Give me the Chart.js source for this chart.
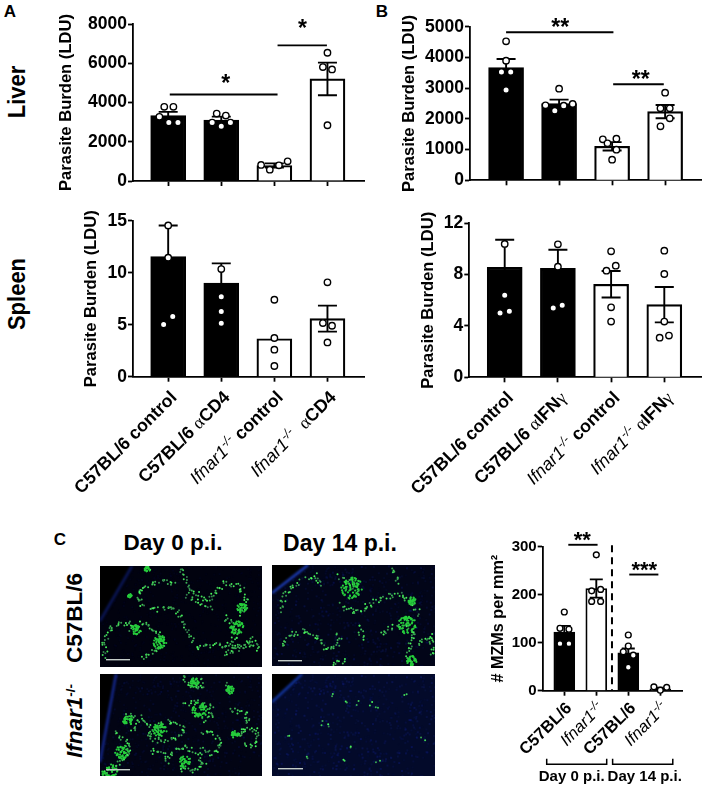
<!DOCTYPE html>
<html>
<head>
<meta charset="utf-8">
<script src="https://cdn.jsdelivr.net/npm/chart.js"></script>
<style>
  html, body { margin: 0; padding: 0; background: #fff; }
  body { position: relative; width: 707px; height: 789px; overflow: hidden; font-family: "Liberation Sans", Arial, sans-serif; color: #000; }
  canvas { position: absolute; display: block; }
  .txt { position: absolute; font-weight: bold; white-space: nowrap; transform: translate(-50%, -50%); line-height: 1; }
  .rot { transform: translate(-50%, -50%) rotate(-90deg); }
  .tall { transform: translate(-50%, -50%) rotate(-90deg) scaleY(1.12); }
  .txt sup { font-size: 60%; vertical-align: 0.5em; line-height: 0; }
</style>
</head>
<body>
<div class="txt" style="left:10px;top:11px;font-size:17px">A</div>
<div class="txt" style="left:382px;top:11px;font-size:17px">B</div>
<div class="txt" style="left:60px;top:539px;font-size:17px">C</div>
<div class="txt tall" style="left:17px;top:92px;font-size:22px">Liver</div>
<div class="txt tall" style="left:17px;top:294px;font-size:22px">Spleen</div>
<div class="txt" style="left:173px;top:543px;font-size:22.5px">Day 0 p.i.</div>
<div class="txt" style="left:340px;top:543px;font-size:23px">Day 14 p.i.</div>
<div class="txt rot" style="left:75px;top:618px;font-size:22.5px">C57BL/6</div>
<div class="txt rot" style="left:75px;top:721px;font-size:22.5px"><i>Ifnar1</i><sup>-/-</sup></div>

<canvas id="liverA" width="320" height="200" style="left:50px;top:0"></canvas>
<canvas id="liverB" width="327" height="200" style="left:380px;top:0"></canvas>
<canvas id="spleenA" width="320" height="310" style="left:50px;top:205px"></canvas>
<canvas id="spleenB" width="327" height="310" style="left:380px;top:205px"></canvas>
<canvas id="mzmChart" width="237" height="264" style="left:470px;top:525px"></canvas>
<canvas id="photo1" width="162" height="101" style="left:100px;top:566px"></canvas>
<canvas id="photo2" width="163" height="101" style="left:272px;top:565px"></canvas>
<canvas id="photo3" width="162" height="102" style="left:100px;top:674px"></canvas>
<canvas id="photo4" width="163" height="102" style="left:272px;top:674px"></canvas>

<script>
// category labels, *x* = italic, ^x^ = superscript, ~x~ = greek
const cd4Labels = ["C57BL/6 control", "C57BL/6 ~α~CD4", "*Ifnar1*^-/-^ control", "*Ifnar1*^-/-^  ~α~CD4"];
const ifnLabels = ["C57BL/6 control", "C57BL/6 ~α~IFN~γ~", "*Ifnar1*^-/-^ control", "*Ifnar1*^-/-^ ~α~IFN~γ~"];
const mzmLabels = ["C57BL/6", "*Ifnar1*^-/-^", "C57BL/6", "*Ifnar1*^-/-^"];
const dayLabels = ["Day 0 p.i.", "Day 14 p.i."];

// Liver, panel A
const liverAMeans = [3330, 3110, 790, 5200];
const liverASem = [190, 170, 110, 830];
const liverAPoints = [
  [3778, 3778, 3268, 2978, 2978],
  [3438, 3336, 2978, 2791, 2978],
  [817, 579, 800, 1004],
  [6536, 5804, 5685, 2842]
];
const liverATicks = [0, 2000, 4000, 6000, 8000];

// Liver, panel B
const liverBMeans = [3667, 2495, 1107, 2235];
const liverBSem = [280, 130, 135, 215];
const liverBPoints = [
  [4524, 3895, 3526, 3526, 2940],
  [2983, 2441, 2267, 2430, 2484],
  [1334, 1356, 1204, 998, 672],
  [2853, 2343, 2343, 2018, 1757]
];
const liverBTicks = [0, 1000, 2000, 3000, 4000, 5000];

// Spleen, panel A
const spleenAMeans = [11.54, 9.0, 3.65, 5.58];
const spleenASem = [3.0, 1.9, null, 1.25];
const spleenAPoints = [
  [14.55, 11.44, 5.8, 5.03],
  [10.35, 7.69, 6.28, 5.13],
  [7.4, 3.72, 2.6, 1.03],
  [9.07, 5.16, 4.9, 3.3]
];
const spleenATicks = [0, 5, 10, 15];

// Spleen, panel B
const spleenBMeans = [8.57, 8.49, 7.25, 5.66];
const spleenBSem = [2.15, 1.45, 1.03, 1.38];
const spleenBPoints = [
  [10.39, 6.39, 5.14, 5.01],
  [10.36, 8.62, 5.61, 5.4],
  [9.82, 8.7, 8.31, 5.45, 4.34],
  [9.87, 8.05, 4.34, 3.25, 3.09]
];
const spleenBTicks = [0, 4, 8, 12];

// MZM counts, panel C
const mzmMeans = [122, 213, 79, 4];
const mzmSem = [13, 19, 9, 2];
const mzmPoints = [
  [164, 130, 128, 98, 98],
  [283, 208, 211, 186, 186],
  [116, 93, 81, 74, 49],
  [8, 1, 7]
];
const mzmTicks = [0, 100, 200, 300];

// sideways spread of the dots round each bar centre
const liverAJitter = [[-.074, .098, -.166, .012, .184], [-.086, .086, -.172, 0, .172], [-.25, -.086, .086, .25], [0, -.086, .086, 0]];
const liverBJitter = [[0, 0, -.0875, .0875, 0], [0, -.256, -.081, .087, .256], [-.175, .081, -.087, .081, 0], [0, -.0875, .0875, .0875, -.0875]];
const spleenAJitter = [[0, 0, .086, -.086], [0, 0, 0, 0], [0, 0, 0, 0], [0, -.086, .086, 0]];
const spleenBJitter = [[0, 0, .0875, -.0875], [0, 0, .081, -.0875], [0, .0875, -.0875, 0, 0], [0, 0, 0, .0875, -.0875]];
const mzmJitter = [[0, -.135, .145, -.135, .145], [0, -.145, .135, -.145, .135], [0, 0, -.156, .156, 0], [-.2, 0, .2]];

// significance lines: x from, x to, y, star x, star y, stars (data units)
const liverABrackets = [[1.03, 3.06, 4408, 2.086, 5276, "*"], [3.06, 3.99, 6910, 3.53, 8067, "*"]];
const liverBBrackets = [[1, 3.025, 4817, 2.02, 5165, "**"], [3.02, 3.975, 3125, 3.54, 3483, "**"]];
const mzmBrackets = [[1.125, 2.04, 304, 1.56, 326, "**"], [3.03, 3.94, 242, 3.5, 264, "***"]];
const dayRanges = [[.45, 2.325], [2.51, 4.39]];

const black = "#000";
const white = "#fff";
const axisWidth = 1.8;

Chart.defaults.font.family = '"Liberation Sans", Arial, sans-serif';
Chart.defaults.color = black;
Chart.defaults.animation = false;

// parse the little label markup into styled pieces
function labelPieces(label, size) {
  const pieces = [];
  label.split(/(\*[^*]+\*|\^[^^]+\^|~[^~]+~)/).forEach((part) => {
    if (!part) return;
    if (part[0] === "*") pieces.push({ text: part.slice(1, -1), font: `italic 400 ${size}px "Liberation Sans"`, rise: 0 });
    else if (part[0] === "^") pieces.push({ text: part.slice(1, -1), font: `italic 400 ${size * 0.72}px "Liberation Sans"`, rise: size * 0.36 });
    else if (part[0] === "~") pieces.push({ text: part.slice(1, -1), font: `400 ${size}px "Liberation Serif"`, rise: 0 });
    else pieces.push({ text: part, font: `bold ${size}px "Liberation Sans"`, rise: 0 });
  });
  return pieces;
}

function drawAngledLabel(ctx, label, x, y, size) {
  const pieces = labelPieces(label, size);
  ctx.save();
  ctx.translate(x, y);
  ctx.rotate(-Math.PI / 4);
  ctx.textBaseline = "alphabetic";
  ctx.textAlign = "left";
  let total = 0;
  pieces.forEach((p) => { ctx.font = p.font; p.w = ctx.measureText(p.text).width; total += p.w; });
  let at = -total;
  pieces.forEach((p) => {
    ctx.font = p.font;
    ctx.fillText(p.text, at, size * 0.36 - p.rise);
    at += p.w;
  });
  ctx.restore();
}

function barPanel(id, cfg) {
  const canvas = document.getElementById(id);
  const left = parseFloat(canvas.style.left);
  const top = parseFloat(canvas.style.top);
  const yWidth = cfg.axisX - left;
  const xHeight = top + canvas.height - cfg.plotBottom;
  const xMin = 1 - (cfg.firstBar - cfg.axisX) / cfg.spacing;
  const xMax = 1 + (cfg.plotRight - cfg.firstBar) / cfg.spacing;

  const scatter = [];
  cfg.points.forEach((vals, i) => vals.forEach((v, j) => scatter.push({ x: i + 1 + cfg.jitter[i][j], y: v })));

  const panelMarks = {
    id: "panelMarks",
    afterDatasetDraw(chart, args) {
      if (args.index !== 1) return; // error bars go on the bars, under the dots
      const { x, y } = chart.scales;
      const ctx = chart.ctx;
      ctx.save();
      ctx.strokeStyle = black;
      ctx.lineWidth = 1.9;
      cfg.means.forEach((m, i) => {
        if (cfg.sem[i] === null) return;
        const px = x.getPixelForValue(i + 1);
        const hi = y.getPixelForValue(m + cfg.sem[i]);
        const lo = y.getPixelForValue(m - cfg.sem[i]);
        ctx.beginPath();
        ctx.moveTo(px, hi); ctx.lineTo(px, lo);
        ctx.moveTo(px - cfg.cap, hi); ctx.lineTo(px + cfg.cap, hi);
        ctx.moveTo(px - cfg.cap, lo); ctx.lineTo(px + cfg.cap, lo);
        ctx.stroke();
      });
      ctx.restore();
    },
    afterDraw(chart) {
      const { x, y } = chart.scales;
      const ctx = chart.ctx;
      ctx.save();
      ctx.fillStyle = black;
      ctx.strokeStyle = black;
      (cfg.brackets || []).forEach((b) => {
        ctx.lineWidth = 1.9;
        ctx.beginPath();
        ctx.moveTo(x.getPixelForValue(b[0]), y.getPixelForValue(b[2]));
        ctx.lineTo(x.getPixelForValue(b[1]), y.getPixelForValue(b[2]));
        ctx.stroke();
        ctx.font = `bold ${cfg.starSize}px "Liberation Sans"`;
        ctx.textAlign = "center";
        ctx.textBaseline = "alphabetic";
        ctx.fillText(b[5], x.getPixelForValue(b[3]), y.getPixelForValue(b[4]) + cfg.starSize * 0.58);
      });
      (cfg.labels || []).forEach((label, i) => {
        drawAngledLabel(ctx, label, x.getPixelForValue(i + 1) + cfg.labelDx, chart.chartArea.bottom + cfg.labelDy, cfg.labelSize);
      });
      if (cfg.extra) cfg.extra(chart, ctx);
      ctx.restore();
    }
  };

  return new Chart(canvas, {
    type: "bar",
    data: {
      datasets: [
        {
          type: "scatter",
          data: scatter,
          backgroundColor: white,
          borderColor: black,
          borderWidth: 1.4,
          pointRadius: cfg.dot,
          clip: false,
          order: 1
        },
        {
          type: "bar",
          data: cfg.means.map((m, i) => ({ x: i + 1, y: m })),
          backgroundColor: cfg.fills,
          borderColor: black,
          borderWidth: cfg.barBorder,
          borderSkipped: "bottom",
          barThickness: cfg.barWidth,
          order: 2
        }
      ]
    },
    options: {
      responsive: false,
      events: [],
      layout: { padding: { top: cfg.plotTop - top, right: left + canvas.width - cfg.plotRight, left: 0, bottom: 0 } },
      plugins: { legend: { display: false }, tooltip: { enabled: false }, title: { display: false } },
      scales: {
        x: {
          type: "linear",
          min: xMin,
          max: xMax,
          offset: false,
          afterBuildTicks: (s) => { s.ticks = cfg.means.map((m, i) => ({ value: i + 1 })); },
          afterFit: (s) => { s.height = xHeight; },
          ticks: { callback: () => "", autoSkip: false, maxRotation: 0, padding: 0 },
          grid: { drawOnChartArea: false, offset: false, color: black, tickColor: black, tickLength: 5, tickWidth: axisWidth },
          border: { color: black, width: axisWidth }
        },
        y: {
          min: cfg.ticks[0],
          max: cfg.ticks[cfg.ticks.length - 1],
          afterBuildTicks: (s) => { s.ticks = cfg.ticks.map((t) => ({ value: t })); },
          afterFit: (s) => { s.width = yWidth; },
          ticks: { font: { size: cfg.tickSize, weight: "bold" }, padding: 1, autoSkip: false, callback: (v) => String(v) },
          grid: { drawOnChartArea: false, color: black, tickColor: black, tickLength: 5, tickWidth: axisWidth },
          border: { color: black, width: axisWidth },
          title: {
            display: true,
            text: cfg.yTitle,
            font: { size: cfg.titleSize, weight: "bold" },
            padding: { top: cfg.titleX - left - cfg.titleSize * 0.6, bottom: 0 }
          }
        }
      }
    },
    plugins: [panelMarks]
  });
}

const twoBlackTwoWhite = [black, black, white, white];

barPanel("liverA", {
  means: liverAMeans, sem: liverASem, points: liverAPoints, jitter: liverAJitter, ticks: liverATicks, brackets: liverABrackets,
  fills: twoBlackTwoWhite, yTitle: "Parasite Burden (LDU)",
  axisX: 133, plotTop: 24, plotBottom: 181, plotRight: 370, firstBar: 169, spacing: 54.33, titleX: 66,
  barWidth: 35, barBorder: 2.2, cap: 9.5, dot: 3.2, tickSize: 17.5, titleSize: 16.6, starSize: 23
});
barPanel("liverB", {
  means: liverBMeans, sem: liverBSem, points: liverBPoints, jitter: liverBJitter, ticks: liverBTicks, brackets: liverBBrackets,
  fills: twoBlackTwoWhite, yTitle: "Parasite Burden (LDU)",
  axisX: 470, plotTop: 26.7, plotBottom: 180.3, plotRight: 703, firstBar: 506.3, spacing: 53.33, titleX: 409,
  barWidth: 35, barBorder: 2.2, cap: 9.5, dot: 3.2, tickSize: 17.5, titleSize: 16.6, starSize: 23
});
barPanel("spleenA", {
  means: spleenAMeans, sem: spleenASem, points: spleenAPoints, jitter: spleenAJitter, ticks: spleenATicks, labels: cd4Labels,
  fills: twoBlackTwoWhite, yTitle: "Parasite Burden (LDU)",
  axisX: 133, plotTop: 220.7, plotBottom: 376.7, plotRight: 370, firstBar: 169, spacing: 54.33, titleX: 91,
  barWidth: 35, barBorder: 2.2, cap: 9.5, dot: 3.2, tickSize: 17.5, titleSize: 16.6, starSize: 23,
  labelSize: 17.8, labelDx: 5, labelDy: 17
});
barPanel("spleenB", {
  means: spleenBMeans, sem: spleenBSem, points: spleenBPoints, jitter: spleenBJitter, ticks: spleenBTicks, labels: ifnLabels,
  fills: twoBlackTwoWhite, yTitle: "Parasite Burden (LDU)",
  axisX: 469.3, plotTop: 223.3, plotBottom: 377.3, plotRight: 701, firstBar: 504.7, spacing: 53.2, titleX: 428,
  barWidth: 35, barBorder: 2.2, cap: 9.5, dot: 3.2, tickSize: 17.5, titleSize: 16.6, starSize: 23,
  labelSize: 17.8, labelDx: 5, labelDy: 17
});
barPanel("mzmChart", {
  means: mzmMeans, sem: mzmSem, points: mzmPoints, jitter: mzmJitter, ticks: mzmTicks, brackets: mzmBrackets, labels: mzmLabels,
  fills: [black, white, black, white], yTitle: "# MZMs per mm²",
  axisX: 542.7, plotTop: 546.7, plotBottom: 690.7, plotRight: 682, firstBar: 564.3, spacing: 32, titleX: 499,
  barWidth: 21, barBorder: 1.8, cap: 6.5, dot: 2.9, tickSize: 15, titleSize: 16.2, starSize: 22,
  labelSize: 16.5, labelDx: 4, labelDy: 14,
  extra(chart, ctx) {
    const { x, y } = chart.scales;
    const bottom = chart.chartArea.bottom;
    // dashed divider between the two days
    ctx.lineWidth = 2;
    ctx.setLineDash([7, 5]);
    ctx.beginPath();
    ctx.moveTo(x.getPixelForValue(2.49), y.getPixelForValue(303));
    ctx.lineTo(x.getPixelForValue(2.49), bottom);
    ctx.stroke();
    ctx.setLineDash([]);
    // day brackets under the labels
    ctx.lineWidth = 1.5;
    ctx.textAlign = "center";
    ctx.textBaseline = "middle";
    ctx.font = 'bold 15px "Liberation Sans"';
    dayRanges.forEach((r, i) => {
      const a = x.getPixelForValue(r[0]);
      const b = x.getPixelForValue(r[1]);
      ctx.beginPath();
      ctx.moveTo(a, bottom + 68); ctx.lineTo(a, bottom + 73.5); ctx.lineTo(b, bottom + 73.5); ctx.lineTo(b, bottom + 68);
      ctx.stroke();
      ctx.fillText(dayLabels[i], (a + b) / 2 - (i ? -2 : 5), bottom + 86);
    });
  }
});

// micrographs: green cell bands traced by eye, in panel pixels
const photo1Bands = [
  [[42,42],[38,32],[40,24],[50,18],[62,16],[76,17]], [[50,44],[60,44],[72,42],[80,48],[84,58],[90,68],[95,76]],
  [[82,2],[84,10],[88,22],[95,28],[105,32],[113,32],[118,22],[125,18]], [[88,30],[100,36],[112,42]],
  [[125,18],[135,18],[142,24],[146,35],[144,45],[137,48]], [[125,50],[130,58],[137,65],[134,74],[126,82]],
  [[5,90],[4,75],[10,62],[20,58],[30,56],[32,66]], [[40,56],[52,62],[60,70],[62,78],[52,86],[42,94]],
  [[95,82],[108,80],[120,78],[135,84],[150,78],[160,84]], [[125,88],[140,78],[152,72],[158,78]], [[45,1],[50,5]]
];
const photo1Blobs = [[137,62,7], [60,76,7], [36,64,5], [142,42,5], [47,4,3], [30,30,2]];
const photo2Bands = [
  [[68,12],[78,18],[88,26]], [[35,14],[45,10],[48,22]], [[68,40],[85,48],[100,38],[110,32],[130,30],[140,38],[148,50]],
  [[110,70],[118,62],[135,60],[142,68],[135,90],[140,98]], [[10,80],[18,70],[30,66],[45,72],[55,85],[68,78],[65,68]],
  [[8,45],[12,30],[28,14]], [[88,60],[90,75]], [[145,78],[158,70],[160,92]], [[60,98],[75,96]], [[120,4],[128,18]]
];
const photo2Blobs = [[80,23,11], [135,60,9], [140,96,5], [140,36,4]];
const photo3Bands = [
  [[82,2],[90,12],[102,14],[100,4]], [[42,42],[52,58],[62,48],[78,50],[85,56],[82,62],[70,66],[55,66],[45,60]],
  [[24,42],[32,40],[38,50],[30,56]], [[15,58],[24,65],[30,75],[20,88],[10,95],[3,100]], [[85,30],[100,28],[112,32],[110,44],[100,46]],
  [[102,58],[115,60],[122,72],[112,80],[100,72]], [[70,82],[80,72],[95,78],[105,88],[90,98],[78,92]], [[50,78],[62,76],[70,90]],
  [[125,10],[130,20]], [[130,35],[145,38],[148,48],[138,60],[155,55],[158,70],[142,72]]
];
const photo3Blobs = [[85,88,6], [10,98,8], [22,78,7], [130,16,4], [100,36,8], [60,56,7], [135,60,4], [28,46,5], [94,8,5]];
const photo4Bright = [[79,73],[103,32],[37,82],[58,20],[72,26],[85,28],[50,48],[55,50],[15,60],[98,29],[70,86],[105,88],[150,65],[132,20]];
// black corner outside the tissue: polygon per photo, in panel pixels
const photoCorners = [
  [[0,0],[32,0],[0,55]],
  [[0,0],[36,0],[0,28]],
  [[0,0],[16,0],[0,88]],
  [[0,0],[30,0],[0,28]]
];
const cornerEdges = ["#0a1658", "#1c3cb4", "#14288e", "#12349c"];
const grainLevels = [0.1, 0.35, 0.25, 0.5];
const scaleBars = [[6,93,30], [6,95,30], [6,95,30], [6,94,31]];

function speck(i) {
  const v = Math.sin(i * 12.9898) * 43758.5453;
  return v - Math.floor(v);
}

function drawPhoto(id, idx, bands, blobs, base) {
  const c = document.getElementById(id);
  const ctx = c.getContext("2d");
  ctx.fillStyle = base;
  ctx.fillRect(0, 0, c.width, c.height);
  // faint blue tissue grain
  for (let i = 0; i < 700; i++) {
    ctx.fillStyle = `rgba(14,26,${80 + 50 * speck(i + 3)},${grainLevels[idx] * speck(i + 7)})`;
    ctx.fillRect(speck(i * 3 + 1) * c.width, speck(i * 5 + 2) * c.height, 2, 2);
  }
  const corner = photoCorners[idx];
  ctx.fillStyle = "#000";
  ctx.beginPath();
  corner.forEach((p, i) => (i ? ctx.lineTo(p[0], p[1]) : ctx.moveTo(p[0], p[1])));
  ctx.closePath();
  ctx.fill();
  ctx.strokeStyle = cornerEdges[idx];
  ctx.lineWidth = 2.5;
  ctx.filter = "blur(1px)";
  ctx.beginPath();
  ctx.moveTo(corner[1][0], corner[1][1]);
  ctx.lineTo(corner[2][0], corner[2][1]);
  ctx.stroke();

  let n = idx * 100;
  ctx.filter = "blur(0.6px)";
  bands.forEach((band) => {
    for (let s = 0; s < band.length - 1; s++) {
      const [x0, y0] = band[s];
      const [x1, y1] = band[s + 1];
      const steps = Math.max(2, Math.round(Math.hypot(x1 - x0, y1 - y0) / 1.7));
      for (let k = 0; k < steps; k++) {
        n++;
        const t = k / steps;
        const g = 120 + Math.floor(speck(n) * 135);
        ctx.fillStyle = `rgb(${30 + g / 6},${g},${60 + g / 8})`;
        ctx.beginPath();
        ctx.arc(x0 + (x1 - x0) * t + (speck(n + 11) - 0.5) * 5.5, y0 + (y1 - y0) * t + (speck(n + 23) - 0.5) * 5.5, 1, 0, 7);
        ctx.fill();
      }
    }
  });
  blobs.forEach(([bx, by, r]) => {
    for (let k = 0; k < r * 6; k++) {
      n++;
      const a = speck(n + 5) * 6.283;
      const d = Math.sqrt(speck(n + 9)) * r;
      ctx.fillStyle = "rgb(38,205,60)";
      ctx.beginPath();
      ctx.arc(bx + Math.cos(a) * d, by + Math.sin(a) * d, 1.1, 0, 7);
      ctx.fill();
    }
  });
  ctx.filter = "none";
  const bar = scaleBars[idx];
  ctx.fillStyle = "#c4ccc8";
  ctx.fillRect(bar[0], bar[1], bar[2] - bar[0], 1.4);
}

drawPhoto("photo1", 0, photo1Bands, photo1Blobs, "#01020f");
drawPhoto("photo2", 1, photo2Bands, photo2Blobs, "#020518");
drawPhoto("photo3", 2, photo3Bands, photo3Blobs, "#020414");
drawPhoto("photo4", 3, photo4Bright.map((p) => [p, [p[0] + 1, p[1] + 1]]), [], "#030a2a");
</script>
</body>
</html>
